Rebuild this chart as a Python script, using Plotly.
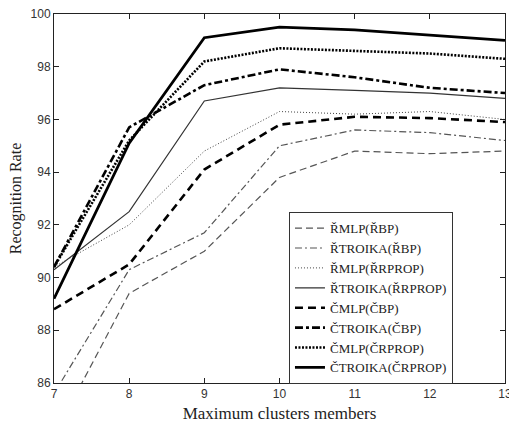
import plotly.graph_objects as go

# Maximum cluster members (x) and recognition rate (%) for each model
members = [7, 8, 9, 10, 11, 12, 13]

r_mlp_bp = [84.0, 89.4, 91.0, 93.8, 94.8, 94.7, 94.8]
r_troika_bp = [85.6, 90.3, 91.7, 95.0, 95.6, 95.5, 95.2]
r_mlp_rprop = [90.4, 92.0, 94.8, 96.3, 96.2, 96.3, 96.0]
r_troika_rprop = [90.3, 92.5, 96.7, 97.2, 97.1, 97.0, 96.8]
c_mlp_bp = [88.8, 90.5, 94.1, 95.8, 96.1, 96.05, 95.9]
c_troika_bp = [90.4, 95.7, 97.3, 97.9, 97.6, 97.2, 97.0]
c_mlp_rprop = [90.4, 95.2, 98.2, 98.7, 98.6, 98.5, 98.3]
c_troika_rprop = [89.2, 95.1, 99.1, 99.5, 99.4, 99.2, 99.0]

series = [
    ("ŘMLP(ŘBP)", r_mlp_bp, "#555555", 1.2, "7px,4px"),
    ("ŘTROIKA(ŘBP)", r_troika_bp, "#555555", 1.2, "7px,3px,2px,3px"),
    ("ŘMLP(ŘRPROP)", r_mlp_rprop, "#444444", 1.0, "1px,2px"),
    ("ŘTROIKA(ŘRPROP)", r_troika_rprop, "#333333", 1.2, "solid"),
    ("ČMLP(ČBP)", c_mlp_bp, "#000000", 2.6, "8px,5px"),
    ("ČTROIKA(ČBP)", c_troika_bp, "#000000", 2.6, "8px,3px,3px,3px"),
    ("ČMLP(ČRPROP)", c_mlp_rprop, "#000000", 2.6, "2px,1.5px"),
    ("ČTROIKA(ČRPROP)", c_troika_rprop, "#000000", 2.8, "solid"),
]

fig = go.Figure()
for name, vals, color, width, dash in series:
    fig.add_trace(go.Scatter(
        x=members, y=vals, mode="lines", name=name,
        line=dict(color=color, width=width, dash=dash),
    ))

serif = "Liberation Serif"

axis_common = dict(
    showline=True, linecolor="#222222", linewidth=1,
    mirror="ticks", ticks="inside", ticklen=5, tickcolor="#222222",
    showgrid=False, zeroline=False, ticklabeloverflow="allow",
    automargin=False,
    tickfont=dict(family="Liberation Sans", size=12, color="#333333"),
)

fig.update_layout(
    width=509, height=427,
    margin=dict(l=54, r=4, t=14, b=44),
    paper_bgcolor="white", plot_bgcolor="white",
    xaxis=dict(range=[7, 13], tickvals=members,
               title=dict(text="Maximum clusters members", standoff=6,
                          font=dict(family=serif, size=17, color="#222222")),
               **axis_common),
    yaxis=dict(range=[86, 100], tickvals=[86, 88, 90, 92, 94, 96, 98, 100],
               title=dict(text="Recognition Rate", standoff=4,
                          font=dict(family=serif, size=16, color="#222222")),
               **axis_common),
    legend=dict(
        x=0.521, y=0.463, xanchor="left", yanchor="top",
        bgcolor="white", bordercolor="#333333", borderwidth=1,
        font=dict(family=serif, size=13, color="#222222"),
        tracegroupgap=0, itemwidth=30,
    ),
    showlegend=True,
)

fig.write_html("out.html")
